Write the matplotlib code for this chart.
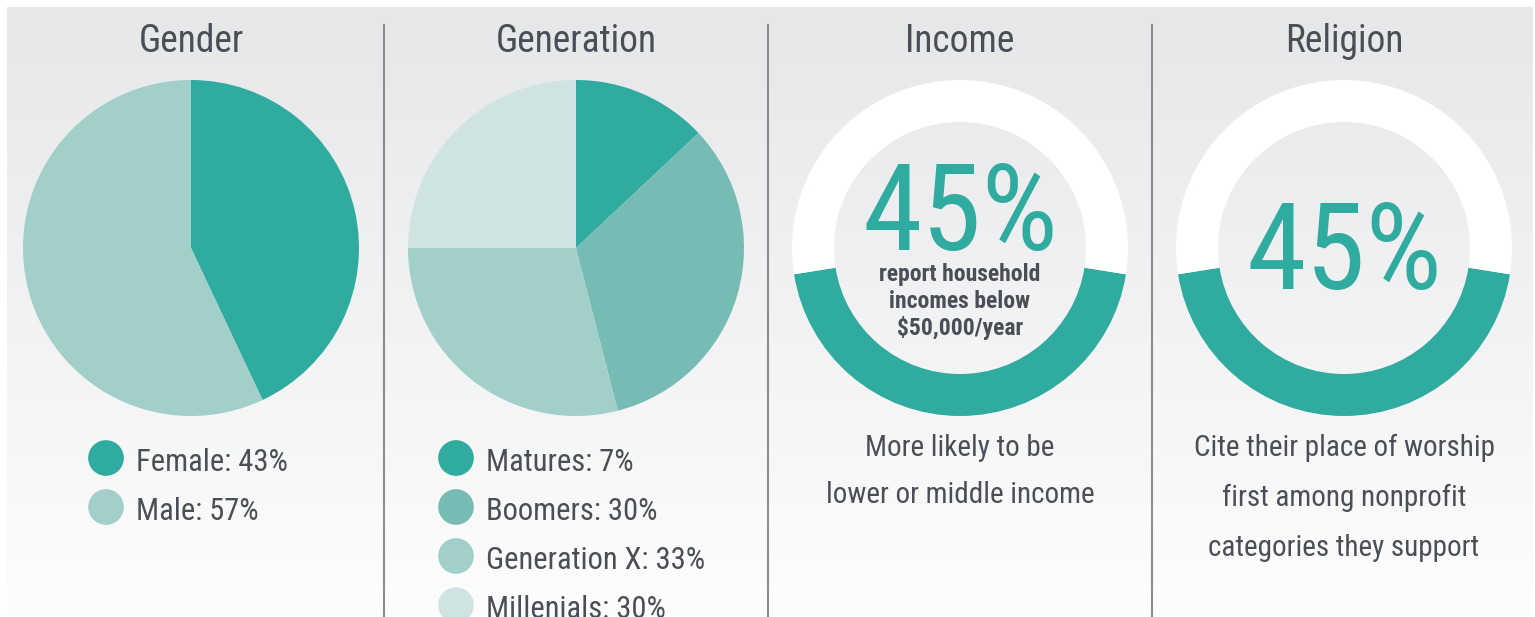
import numpy as np
import matplotlib
matplotlib.use("Agg")
import matplotlib.pyplot as plt

W, H = 1535, 617

TEAL = "#2fab9f"
GRAY_TXT = "#4a4f57"

# gender pie
gender_labels = ["Female: 43%", "Male: 57%"]
gender_values = [43, 57]
gender_colors = [TEAL, "#a2cfc9"]

# generation pie (wedges as drawn in the picture, legend text as printed)
gen_labels = ["Matures: 7%", "Boomers: 30%", "Generation X: 33%", "Millenials: 30%"]
gen_values = [13, 33, 29, 25]
gen_colors = [TEAL, "#76bcb4", "#a2cfc9", "#cfe4e2"]

# donuts
income_share = 45
religion_share = 45
income_inner = ["report household", "incomes below", "$50,000/year"]
income_note = ["More likely to be", "lower or middle income"]
religion_note = ["Cite their place of worship", "first among nonprofit", "categories they support"]

titles = ["Gender", "Generation", "Income", "Religion"]
panel_x = [191, 576, 960, 1344]

plt.rcParams["font.family"] = ["Roboto Condensed", "DejaVu Sans"]

fig = plt.figure(figsize=(W / 100, H / 100), dpi=100)
fig.patch.set_facecolor("white")
ax = fig.add_axes([0, 0, 1, 1])
ax.axis("off")

# background gradient
top = np.array([230, 231, 233]) / 255
bot = np.array([253, 253, 253]) / 255
t = np.linspace(0, 1, 256)[:, None]
grad = (top * (1 - t) + bot * t)[:, None, :]
ax.imshow(grad, extent=(7, 1533, 615, 7), aspect="auto", zorder=0)
ax.set_xlim(0, W)
ax.set_ylim(H, 0)

# dividers
for x in [384, 768, 1152]:
    ax.plot([x, x], [25, H], color="#8b8c90", lw=1.5, zorder=2)

# titles
for x, title in zip(panel_x, titles):
    ax.text(x, 52, title, ha="center", va="baseline", fontsize=27,
            color=GRAY_TXT, zorder=3)

R_OUT = 168
R_IN = 126


def pie_axes(cx, cy, half=172):
    pax = fig.add_axes([(cx - half) / W, 1 - (cy + half) / H, 2 * half / W, 2 * half / H])
    pax.set_facecolor("none")
    return pax, half


def finish(pax, half):
    pax.set_xlim(-half, half)
    pax.set_ylim(-half, half)
    pax.set_aspect("equal")
    pax.axis("off")


pax, hf = pie_axes(panel_x[0], 248)
pax.pie(gender_values, colors=gender_colors, startangle=90, counterclock=False,
        radius=R_OUT, wedgeprops=dict(linewidth=0))
finish(pax, hf)

pax, hf = pie_axes(panel_x[1], 248)
pax.pie(gen_values, colors=gen_colors, startangle=90, counterclock=False,
        radius=R_OUT, wedgeprops=dict(linewidth=0))
finish(pax, hf)

for cx, share in [(panel_x[2], income_share), (panel_x[3], religion_share)]:
    pax, hf = pie_axes(cx, 248)
    pax.pie([share, 100 - share], colors=[TEAL, "white"],
            startangle=270 - share * 3.6 / 2, radius=R_OUT,
            wedgeprops=dict(width=R_OUT - R_IN, linewidth=0))
    finish(pax, hf)

# legends
def legend(x, labels, colors):
    ys = [458 + 49 * i for i in range(len(labels))]
    ax.scatter([x] * len(labels), ys, s=660, c=colors, linewidths=0, zorder=3)
    for y, lab in zip(ys, labels):
        ax.text(x + 30, y + 13, lab, ha="left", va="baseline", fontsize=22,
                color=GRAY_TXT, zorder=3)


legend(106, gender_labels, gender_colors)
legend(456, gen_labels, gen_colors)

# income block
ax.text(panel_x[2], 250, f"{income_share}%", ha="center", va="baseline",
        fontsize=87, color=TEAL, zorder=3)
for i, line in enumerate(income_inner):
    ax.text(panel_x[2], 281 + 27 * i, line, ha="center", va="baseline",
            fontsize=17, fontweight="bold", color=GRAY_TXT, zorder=3)
for i, line in enumerate(income_note):
    ax.text(panel_x[2], 456 + 47 * i, line, ha="center", va="baseline",
            fontsize=21, color=GRAY_TXT, zorder=3)

# religion block
ax.text(panel_x[3], 289, f"{religion_share}%", ha="center", va="baseline",
        fontsize=87, color=TEAL, zorder=3)
for i, line in enumerate(religion_note):
    ax.text(panel_x[3], 456 + 50 * i, line, ha="center", va="baseline",
            fontsize=21, color=GRAY_TXT, zorder=3)

fig.savefig("out.png", dpi=100, facecolor="white")
